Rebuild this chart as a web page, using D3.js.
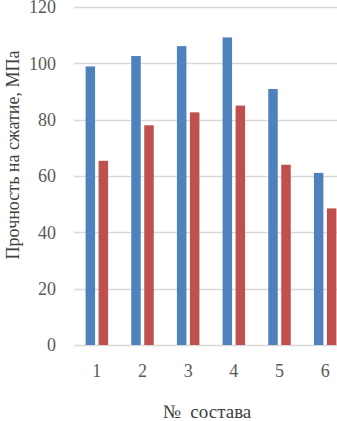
<!DOCTYPE html>
<html><head><meta charset="utf-8">
<script src="https://cdn.jsdelivr.net/npm/d3@7/dist/d3.min.js"></script>
<style>body{margin:0;background:#fff;overflow:hidden}svg{display:block}</style>
</head><body>
<script>
const categories = ["1","2","3","4","5","6"];
const seriesNames = ["A","B"];
const seriesA = [98.9, 102.6, 106.1, 109.2, 90.9, 61.1];
const seriesB = [65.4, 78.0, 82.6, 85.0, 64.0, 48.5];
const yTicks = [0,20,40,60,80,100,120];
const yTitle = "Прочность на сжатие, МПа";
const xTitle = "№  состава";
const colors = ["#4F81BD","#C0504D"];

const W = 337, H = 421;
const FONT = "Liberation Serif";
const svg = d3.select("body").append("svg").attr("width",W).attr("height",H)
  .attr("font-family",FONT).style("font-family",FONT);

const x = d3.scaleBand().domain(categories).range([74, 348]).paddingInner(0).paddingOuter(0);
const x1 = d3.scaleBand().domain(seriesNames).range([0, 22.5]).paddingInner(0.27).paddingOuter(0);
const y = d3.scaleLinear().domain([0,120]).range([345, 7]);

// gridlines
svg.append("g").selectAll("line").data(yTicks).join("line")
  .attr("x1",74).attr("x2",W).attr("y1",d=>Math.round(y(d))+0.5).attr("y2",d=>Math.round(y(d))+0.5)
  .attr("stroke","#D9D9D9").attr("stroke-width",1.3);

function styleText(sel, size, fill){
  sel.attr("font-family",FONT).style("font-family",FONT)
     .attr("font-size",size).style("font-size",size+"px").attr("fill",fill);
}

// y axis
const yAxis = d3.axisLeft(y).tickValues(yTicks).tickSize(0).tickPadding(0);
const gy = svg.append("g").attr("transform","translate(56,0)").call(yAxis);
gy.select(".domain").remove();
gy.attr("font-family",FONT).attr("font-size",18);
styleText(gy.selectAll("text").attr("dy","0.32em"), 18, "#595959");

// x axis
const xAxis = d3.axisBottom(x).tickSize(0).tickPadding(0);
const gx = svg.append("g").attr("transform","translate(0,371)").call(xAxis);
gx.select(".domain").remove();
gx.attr("font-family",FONT).attr("font-size",18);
styleText(gx.selectAll("text").attr("dy","0.32em"), 18, "#595959");

const data = categories.map((c,i)=>({c, vals:[seriesA[i], seriesB[i]]}));
const groupOffset = (x.bandwidth() - 22.5)/2;
svg.append("g").selectAll("g").data(data).join("g")
  .attr("transform",d=>`translate(${x(d.c)+groupOffset},0)`)
  .selectAll("rect").data(d=>d.vals.map((v,j)=>({s:seriesNames[j], v, j})))
  .join("rect")
  .attr("x",d=>x1(d.s)).attr("width",x1.bandwidth())
  .attr("y",d=>y(d.v)).attr("height",d=>y(0)-y(d.v))
  .attr("fill",d=>colors[d.j]);

// titles
styleText(svg.append("text").attr("transform","translate(19,155) rotate(-90)")
  .attr("text-anchor","middle").text(yTitle), 18, "#404040");
styleText(svg.append("text").attr("x",207).attr("y",418).attr("text-anchor","middle")
  .style("white-space","pre").text(xTitle), 19, "#404040");
</script>
</body></html>
